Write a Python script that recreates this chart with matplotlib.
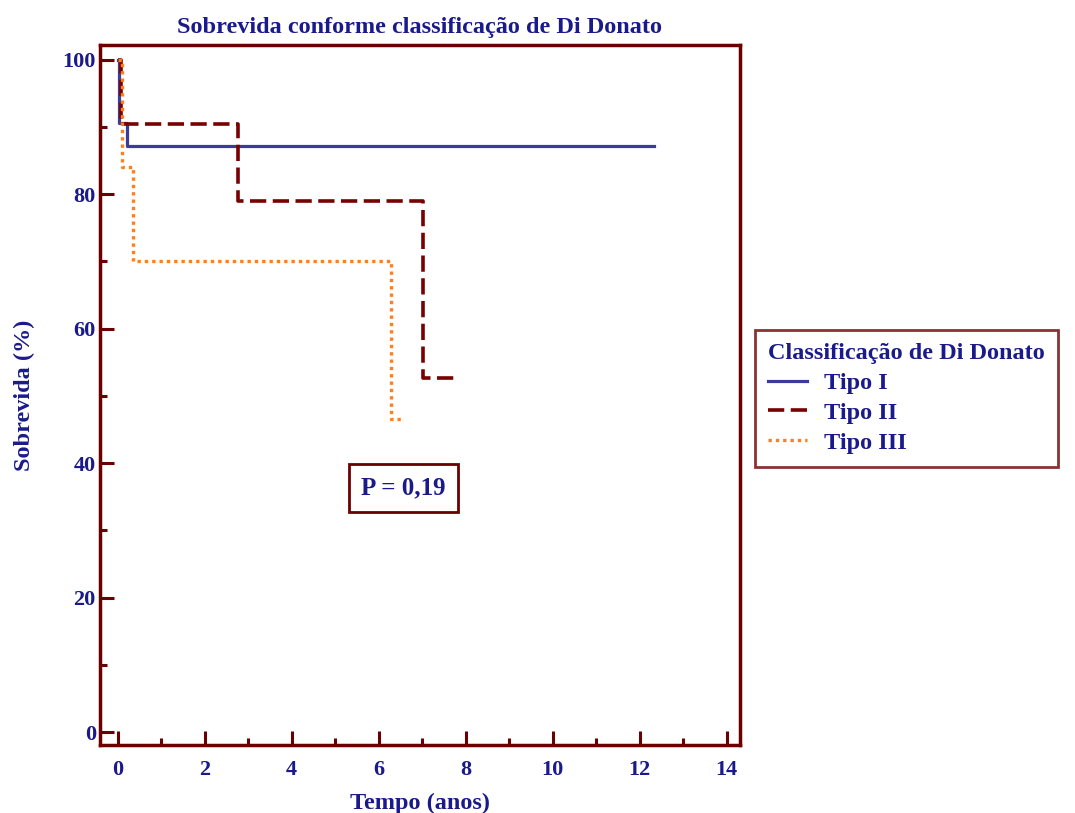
import matplotlib.pyplot as plt

# Kaplan-Meier style survival steps (time in years, survival in %)
tipo1_t = [0, 0.03, 0.22, 12.32]
tipo1_s = [100, 90.6, 87.2, 87.2]
tipo2_t = [0, 0.07, 2.76, 7.03, 7.8]
tipo2_s = [100, 90.5, 79.0, 52.6, 52.6]
tipo3_t = [0, 0.1, 0.35, 6.28, 6.53]
tipo3_s = [100, 84.1, 70.0, 46.6, 46.6]

labels = ["Tipo I", "Tipo II", "Tipo III"]
xticks = [0, 2, 4, 6, 8, 10, 12, 14]
yticks = [0, 20, 40, 60, 80, 100]

navy = "#1a1a8a"
frame = "#6b0000"

plt.rcParams['font.family'] = ['Liberation Serif', 'DejaVu Serif']
plt.rcParams['font.weight'] = 'bold'

fig = plt.figure(figsize=(10.75, 8.13), dpi=100)
ax = fig.add_axes([0.093, 0.0836, 0.595, 0.861])

ax.step(tipo1_t, tipo1_s, where='post', color="#3b3b9c", lw=2.3, label=labels[0])
ax.step(tipo2_t, tipo2_s, where='post', color="#780000", lw=2.6,
        dashes=(4.5, 1.8), label=labels[1])
ax.step(tipo3_t, tipo3_s, where='post', color="#ff7f1e", lw=2.4,
        dashes=(1.0, 1.2), label=labels[2])

ax.set_xlim(-0.41, 14.3)
ax.set_ylim(-1.93, 102.2)
ax.set_xticks(xticks)
ax.set_yticks(yticks)
ax.set_xticks(range(1, 14, 2), minor=True)
ax.set_yticks(range(10, 100, 20), minor=True)
ax.tick_params(which='major', direction='in', length=10, width=2.2, color=frame,
               labelcolor=navy, labelsize=16)
ax.tick_params(axis='x', which='major', pad=11)
ax.tick_params(axis='y', which='major', pad=3)
ax.tick_params(which='minor', direction='in', length=5, width=2.2, color=frame)
for lab in ax.get_xticklabels() + ax.get_yticklabels():
    lab.set_fontweight('bold')
for sp in ax.spines.values():
    sp.set_color(frame)
    sp.set_linewidth(2.5)

ax.set_xlabel("Tempo (anos)", color=navy, fontsize=17.5, fontweight='bold', labelpad=9)
ax.set_ylabel("Sobrevida (%)", color=navy, fontsize=17.5, fontweight='bold', labelpad=20)
ax.set_title("Sobrevida conforme classificação de Di Donato", color=navy,
             fontsize=17.5, fontweight='bold', pad=9)

ax.text(6.57, 36.3, "P = 0,19", color=navy, fontsize=18, fontweight='bold',
        ha='center', va='center',
        bbox=dict(boxstyle='square,pad=0.5', fc='white', ec=frame, lw=2))

leg = fig.legend(loc='upper left', bbox_to_anchor=(755 / 1075, 1 - 330 / 813),
                 title="Classificação de Di Donato", fontsize=17.5, title_fontsize=17.5,
                 frameon=True, fancybox=False, alignment='left',
                 handlelength=1.6, handletextpad=0.7, labelspacing=0.32,
                 borderpad=0.55, borderaxespad=0)
leg.get_frame().set_edgecolor(frame)
leg.get_frame().set_linewidth(2)
leg.get_title().set_color(navy)
leg.get_title().set_fontweight('bold')
for t in leg.get_texts():
    t.set_color(navy)
    t.set_fontweight('bold')

fig.savefig("out.png", dpi=100)
